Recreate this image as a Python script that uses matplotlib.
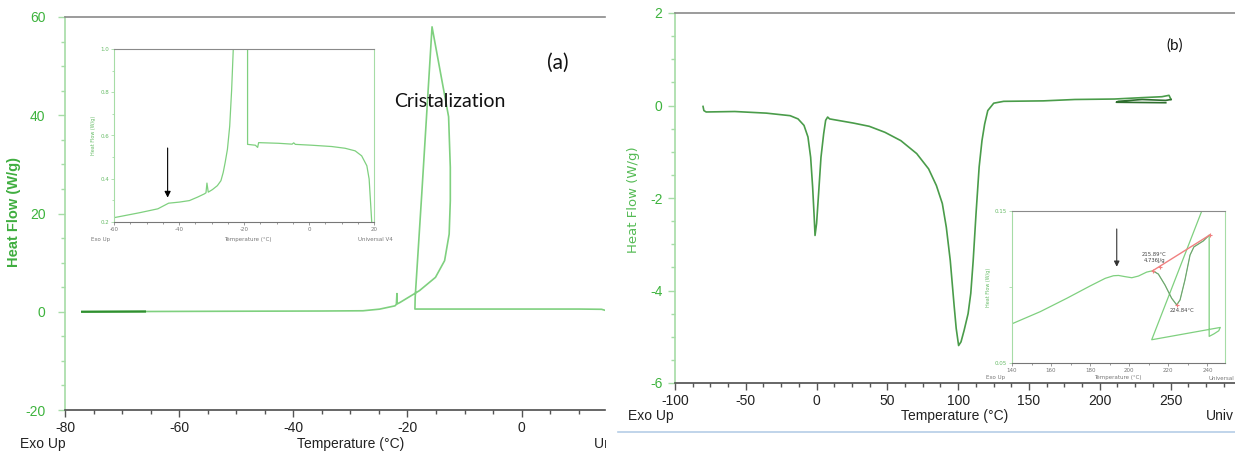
import numpy as np
import matplotlib
matplotlib.use("Agg")
import matplotlib.pyplot as plt
import matplotlib.font_manager as fm
from matplotlib.ticker import MultipleLocator
from matplotlib.transforms import Bbox, TransformedBbox
from matplotlib.lines import Line2D

plt.rcParams['axes.unicode_minus'] = False

# ---------------- data ----------------
# (a) main cooling scan (path order, high T -> low T)
a_temp = [14.6, 14.0, 10.0, 0.0, -10.0, -18.7, -18.65, -17.5, -15.7, -12.8, -12.5, -12.5, -12.7,
          -13.5, -15.1, -17.9, -21.3, -21.8, -21.85, -21.95, -22.2, -24.9, -27.8, -35.0, -52.0,
          -66.0, -77.0]
a_hf = [0.3, 0.5, 0.55, 0.55, 0.55, 0.55, 3.0, 24.0, 58.0, 39.7, 29.4, 22.6, 15.8,
        10.4, 7.0, 4.3, 1.9, 1.6, 3.7, 1.5, 1.2, 0.53, 0.2, 0.15, 0.1,
        0.05, 0.0]
a_fast_temp = [-77.0, -66.0]
a_fast_hf = [0.0, 0.05]

# (a) inset
ai_temp = [19.3, 19.0, 18.5, 17.8, 16.2, 14.2, 11.1, 7.0, 0.9, -4.2, -4.7, -5.2, -9.4, -15.5,
           -15.8, -16.5, -18.9, -18.9, -23.2, -23.3, -23.8, -24.4, -25.1, -25.8, -26.4, -27.1,
           -28.2, -29.7, -31.0, -31.4, -31.7, -32.2, -34.3, -36.8, -39.9, -43.2, -46.5, -52.1, -60.0]
ai_hf = [0.20, 0.276, 0.399, 0.460, 0.506, 0.529, 0.541, 0.549, 0.555, 0.559, 0.566, 0.560, 0.564,
         0.567, 0.545, 0.555, 0.559, 3.0, 1.2, 1.0, 0.812, 0.643, 0.536, 0.475, 0.429, 0.391,
         0.368, 0.350, 0.338, 0.380, 0.335, 0.330, 0.315, 0.299, 0.292, 0.287, 0.261, 0.243, 0.22]
ai_arrow_T = -43.5
ai_arrow_hf = [0.555, 0.300]

# (b) main heating scan
b_temp = [-80.2, -79.6, -78.0, -57.8, -35.5, -18.7, -13.1, -8.9, -6.1, -4.2, -2.8, -1.7, -1.1,
          0.0, 1.4, 3.1, 5.0, 6.4, 7.8, 9.2, 14.8, 26.0, 37.2, 48.3, 59.5, 70.7, 79.1, 84.6,
          88.8, 91.6, 94.4, 95.8, 97.2, 98.6, 100.3, 102.0, 104.2, 107.0, 108.9, 110.6, 112.6,
          114.8, 116.8, 118.7, 120.9, 125.1, 132.1, 160.1, 182.4, 210.3, 229.9, 243.9, 248.9,
          250.3, 246.6, 229.9, 213.1, 211.7, 246.6]
b_hf = [-0.02, -0.11, -0.14, -0.13, -0.165, -0.22, -0.29, -0.43, -0.68, -1.12, -1.76, -2.41, -2.81,
        -2.55, -1.91, -1.12, -0.61, -0.32, -0.25, -0.29, -0.32, -0.38, -0.45, -0.58, -0.76, -1.04,
        -1.37, -1.73, -2.12, -2.63, -3.35, -3.85, -4.35, -4.82, -5.19, -5.11, -4.86, -4.50, -4.06,
        -3.35, -2.34, -1.33, -0.76, -0.40, -0.11, 0.05, 0.09, 0.10, 0.13, 0.14, 0.17, 0.19, 0.22,
        0.13, 0.11, 0.13, 0.09, 0.07, 0.06]
b_loop_start = 53

# (b) inset
bi_temp = [140.0, 154.5, 168.1, 180.0, 187.7, 191.9, 194.5, 197.9, 201.3, 204.7, 208.9, 212.0,
           214.9, 218.3, 221.7, 224.3, 226.0, 228.5, 231.1, 233.1, 237.9, 240.9, 240.9, 243.4,
           245.8, 246.6, 211.5, 237.9]
bi_hf = [0.0758, 0.0838, 0.0926, 0.1007, 0.1057, 0.1074, 0.1076, 0.1068, 0.1061, 0.1072, 0.1098,
         0.1107, 0.1085, 0.1013, 0.0926, 0.0882, 0.0915, 0.1046, 0.1210, 0.1264, 0.1303, 0.1341,
         0.0675, 0.0692, 0.0712, 0.0734, 0.0653, 0.1526]
bi_peak_slice = (11, 21)
bi_base_T = [212.0, 241.3]
bi_base_hf = [0.1107, 0.1343]
bi_onset_T, bi_onset_hf = 215.7, 0.1130
bi_min_T, bi_min_hf = 224.3, 0.0882
bi_arrow_T = 193.6
bi_arrow_hf = [0.140, 0.1115]

a_xticks = [-80, -60, -40, -20, 0]
a_yticks = [-20, 0, 20, 40, 60]
ai_xticks = [-60, -40, -20, 0, 20]
ai_yticks = [0.2, 0.4, 0.6, 0.8, 1.0]
b_xticks = [-100, -50, 0, 50, 100, 150, 200, 250]
b_yticks = [-6, -4, -2, 0, 2]
bi_xticks = [140, 160, 180, 200, 220, 240]
bi_yticks = [0.05, 0.10, 0.15]
bi_ylabels = ["0.05", "", "0.15"]

# ---------------- style ----------------
W, H = 1235, 457
names = {f.name for f in fm.fontManager.ttflist}
NARROW = 'Liberation Sans Narrow' if 'Liberation Sans Narrow' in names else 'Liberation Sans'
TS = 12 if NARROW == 'Liberation Sans Narrow' else 10
CAL = 'Lato' if 'Lato' in names else 'DejaVu Sans'

LINE_A = '#7fd07f'
LINE_A_DARK = '#2f8f2f'
LINE_B = '#4a9c4a'
LINE_B_DARK = '#2e6e2e'
SPINE_G = '#a6dca6'
SPINE_TOP = '#8a8a8a'
SPINE_BOT = '#4d4d4d'
YT_G = '#3db33d'

fig = plt.figure(figsize=(W / 100, H / 100), dpi=100)
fig.patch.set_facecolor('white')


def px_axes(l, t, r, b):
    return fig.add_axes([l / W, 1 - b / H, (r - l) / W, (b - t) / H])


def ftext(x, y, s, **kw):
    return fig.text(x / W, 1 - y / H, s, **kw)


def style_main(ax, xmin, ymin, ypad):
    ax.spines['right'].set_visible(False)
    ax.spines['left'].set_color(SPINE_G)
    ax.spines['left'].set_linewidth(1.2)
    ax.spines['top'].set_color(SPINE_TOP)
    ax.spines['top'].set_linewidth(1.2)
    ax.spines['bottom'].set_color(SPINE_BOT)
    ax.spines['bottom'].set_linewidth(1.2)
    ax.xaxis.set_minor_locator(MultipleLocator(xmin))
    ax.yaxis.set_minor_locator(MultipleLocator(ymin))
    ax.tick_params(axis='x', which='major', direction='out', length=5, width=1, color='#555555',
                   labelsize=TS, labelcolor='#222222', pad=3)
    ax.tick_params(axis='x', which='minor', direction='out', length=3, width=1, color='#555555')
    ax.tick_params(axis='y', which='major', direction='out', length=5, width=1, color=SPINE_G,
                   labelsize=TS, labelcolor=YT_G, pad=ypad)
    ax.tick_params(axis='y', which='minor', direction='out', length=3, width=1, color=SPINE_G)
    for lab in ax.get_xticklabels() + ax.get_yticklabels():
        lab.set_fontfamily(NARROW)


def style_inset(ax, xmin, ymin):
    ax.spines['left'].set_color(SPINE_G)
    ax.spines['right'].set_color(SPINE_G)
    ax.spines['top'].set_color(SPINE_TOP)
    ax.spines['bottom'].set_color('#777777')
    for s in ax.spines.values():
        s.set_linewidth(0.8)
    ax.xaxis.set_minor_locator(MultipleLocator(xmin))
    ax.yaxis.set_minor_locator(MultipleLocator(ymin))
    ax.tick_params(axis='x', which='both', direction='out', length=2, width=0.6, color='#888888',
                   labelsize=4, labelcolor='#777777', pad=1.5)
    ax.tick_params(axis='y', which='both', direction='out', length=2, width=0.6, color=SPINE_G,
                   labelsize=4, labelcolor='#66bb66', pad=1.5)
    ax.tick_params(which='minor', length=1.2)
    ax.set_facecolor('white')


# ---------------- panel (a) ----------------
axA = px_axes(65, 17, 605, 410)
axA.plot(a_temp, a_hf, color=LINE_A, lw=1.2)
axA.plot(a_fast_temp, a_fast_hf, color=LINE_A_DARK, lw=1.6)
axA.set_xlim(-80, 14.6)
axA.set_ylim(-20, 60)
axA.set_xticks(a_xticks)
axA.set_yticks(a_yticks)
style_main(axA, 5, 5, 9)
ftext(14, 212, 'Heat Flow (W/g)', color='#3fae3f', fontsize=10.5, family='Liberation Sans',
      fontweight='bold', rotation=90, ha='center', va='center')
ftext(558, 63, '(a)', fontsize=15, family=CAL, ha='center', va='center', color='#111111')
ftext(394, 107, 'Cristalization', fontsize=14, family=CAL, ha='left', va='baseline',
      color='#111111')
ftext(43, 444, 'Exo Up', fontsize=TS, family=NARROW, ha='center', va='center', color='#222222')
ftext(351, 444, 'Temperature (°C)', fontsize=TS, family=NARROW, ha='center', va='center',
      color='#222222')
tu = ftext(594, 444, 'Universal V4.5A TA Instruments', fontsize=TS, family=NARROW, ha='left',
           va='center', color='#222222')
tu.set_clip_box(TransformedBbox(Bbox([[0, 0], [606 / W, 1]]), fig.transFigure))
tu.set_clip_on(True)

# (a) inset
axAi = px_axes(114, 49, 374, 222)
axAi.plot(ai_temp, ai_hf, color=LINE_A, lw=0.9)
axAi.set_xlim(-60, 20)
axAi.set_ylim(0.2, 1.0)
axAi.set_xticks(ai_xticks)
axAi.set_yticks(ai_yticks)
axAi.set_yticklabels([f'{v:.1f}' for v in ai_yticks])
style_inset(axAi, 5, 0.1)
axAi.set_ylabel('Heat Flow (W/g)', fontsize=3.5, color='#66bb66', labelpad=3)
axAi.annotate('', xy=(ai_arrow_T, ai_arrow_hf[1]), xytext=(ai_arrow_T, ai_arrow_hf[0]),
              arrowprops=dict(arrowstyle='-|>', color='black', lw=0.8, mutation_scale=9))
ftext(101, 240, 'Exo Up', fontsize=4, color='#777777', ha='center', va='center')
ftext(248, 240, 'Temperature (°C)', fontsize=4, color='#777777', ha='center', va='center')
ftext(375, 240, 'Universal V4', fontsize=4, color='#777777', ha='center', va='center')

# ---------------- panel (b) ----------------
axB = px_axes(675, 13, 1235, 383)
axB.plot(b_temp[:b_loop_start + 1], b_hf[:b_loop_start + 1], color=LINE_B, lw=1.2)
axB.plot(b_temp[b_loop_start:], b_hf[b_loop_start:], color=LINE_B_DARK, lw=1.2)
axB.set_xlim(-100, 295.5)
axB.set_ylim(-6, 2)
axB.set_xticks(b_xticks)
axB.set_yticks(b_yticks)
style_main(axB, 12.5, 0.5, 4)
ftext(633, 200, 'Heat Flow (W/g)', color='#55bb55', fontsize=9.5, family='DejaVu Sans',
      rotation=90, ha='center', va='center')
ftext(1175, 46, '(b)', fontsize=11, family=CAL, ha='center', va='center', color='#111111')
ftext(651, 416, 'Exo Up', fontsize=TS, family=NARROW, ha='center', va='center', color='#222222')
ftext(955, 416, 'Temperature (°C)', fontsize=TS, family=NARROW, ha='center', va='center',
      color='#222222')
ftext(1234, 416, 'Univ', fontsize=TS, family=NARROW, ha='right', va='center', color='#222222')
fig.add_artist(Line2D([618 / W, 1.0], [1 - 432 / H, 1 - 432 / H], color='#b5cde6', lw=1.2))

# (b) inset
axBi = px_axes(1012, 211, 1225, 363)
axBi.plot(bi_temp, bi_hf, color=LINE_A, lw=0.9)
s0, s1 = bi_peak_slice
axBi.plot(bi_temp[s0:s1 + 1], bi_hf[s0:s1 + 1], color='#6d8a6d', lw=0.6, alpha=0.8)
axBi.plot(bi_base_T, bi_base_hf, color='#f08080', lw=1.0, marker='+', ms=3, mew=0.8)
axBi.plot([bi_onset_T], [bi_onset_hf], color='#f08080', marker='+', ms=3, mew=0.8)
axBi.plot([bi_min_T], [bi_min_hf], color='#f08080', marker='+', ms=3, mew=0.8)
axBi.set_xlim(140, 249)
axBi.set_ylim(0.05, 0.15)
axBi.set_xticks(bi_xticks)
axBi.set_yticks(bi_yticks)
axBi.set_yticklabels(bi_ylabels)
style_inset(axBi, 10, 0.05)
axBi.set_ylabel('Heat Flow (W/g)', fontsize=3.5, color='#66bb66', labelpad=3)
axBi.annotate('', xy=(bi_arrow_T, bi_arrow_hf[1]), xytext=(bi_arrow_T, bi_arrow_hf[0]),
              arrowprops=dict(arrowstyle='-|>', color='#333333', lw=0.8, mutation_scale=8))
axBi.text(212.7, 0.1195, '215.89°C\n4.736J/g', fontsize=3.8, color='#444444', ha='center',
          va='center', linespacing=1.1)
axBi.text(227.0, 0.0843, '224.84°C', fontsize=3.8, color='#444444', ha='center', va='center')
ftext(996, 378, 'Exo Up', fontsize=4, color='#777777', ha='center', va='center')
ftext(1118, 378, 'Temperature (°C)', fontsize=4, color='#777777', ha='center', va='center')
ftext(1234, 378, 'Universal', fontsize=4, color='#777777', ha='right', va='center')

fig.savefig('out.png', dpi=100, facecolor='white')
